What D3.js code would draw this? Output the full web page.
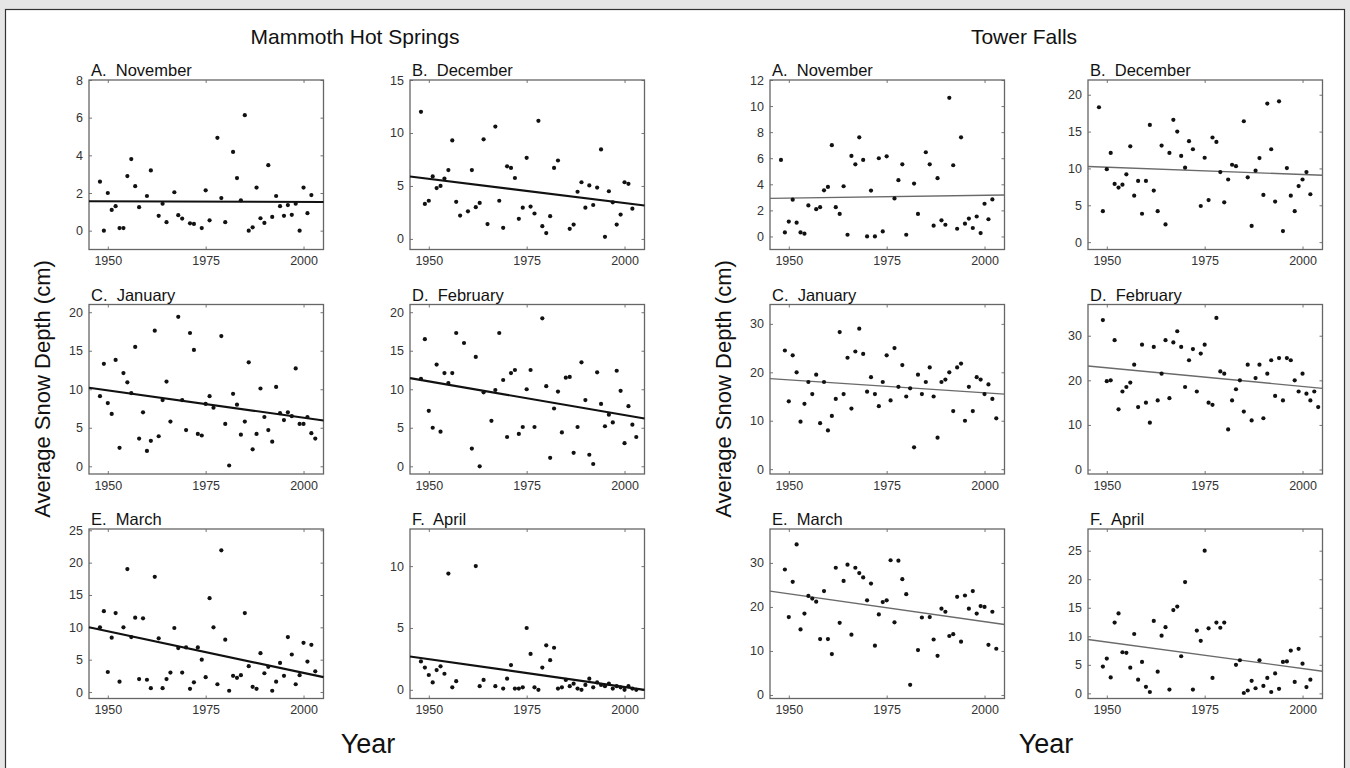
<!DOCTYPE html>
<html><head><meta charset="utf-8">
<script src="https://cdn.jsdelivr.net/npm/d3@7"></script>
<style>html,body{margin:0;padding:0;background:#e6e6e6;} svg{display:block;}</style>
</head><body>
<svg id="chart" width="1350" height="768"></svg>
<script>
// ---------------- DATA ----------------
const sites = ["Mammoth Hot Springs", "Tower Falls"];
const panelTitles = ["A.  November", "B.  December", "C.  January", "D.  February", "E.  March", "F.  April"];
const xTicks = [1950, 1975, 2000];
const xDomain = [1945.2, 2005.1];

const mammothYDomains = [[-1, 8], [-1, 15], [-1, 21], [-1, 21], [-1, 25.2], [-0.7, 13]];
const mammothYTicks = [[0, 2, 4, 6, 8], [0, 5, 10, 15], [0, 5, 10, 15, 20], [0, 5, 10, 15, 20], [0, 5, 10, 15, 20, 25], [0, 5, 10]];
const towerYDomains = [[-1, 12], [-1, 22], [-1, 34], [-1, 37], [-0.8, 37.7], [-0.9, 28.8]];
const towerYTicks = [[0, 2, 4, 6, 8, 10, 12], [0, 5, 10, 15, 20], [0, 10, 20, 30], [0, 10, 20, 30], [0, 10, 20, 30], [0, 5, 10, 15, 20, 25]];

// trend line values at the left and right edge of the year axis
const mammothTrend = [[1.56, 1.52], [5.89, 3.16], [10.2, 5.94], [11.44, 6.2], [10.0, 2.3], [2.7, 0.0]];
const towerTrend = [[2.92, 3.18], [10.27, 9.08], [18.7, 15.5], [23.2, 18.2], [23.6, 16.0], [9.45, 3.88]];

const mammothNov = [[1948,2.6],[1949,0.0],[1950,2.0],[1951,1.1],[1952,1.3],[1953,0.14],[1954,0.14],[1955,2.9],[1956,3.8],[1957,2.36],[1958,1.25],[1960,1.84],[1961,3.2],[1963,0.79],[1964,1.43],[1965,0.45],[1967,2.04],[1968,0.82],[1969,0.64],[1971,0.39],[1972,0.36],[1974,0.14],[1975,2.14],[1976,0.55],[1978,4.93],[1979,1.73],[1980,0.45],[1982,4.18],[1983,2.79],[1984,1.61],[1985,6.13],[1986,0.0],[1987,0.18],[1988,2.29],[1989,0.66],[1990,0.41],[1991,3.48],[1992,0.73],[1993,1.84],[1994,1.3],[1995,0.79],[1996,1.36],[1997,0.84],[1998,1.43],[1999,0.0],[2000,2.29],[2001,0.93],[2002,1.89]];
const mammothDec = [[1948,12.0],[1949,3.3],[1950,3.6],[1951,5.9],[1952,4.8],[1953,5.0],[1954,5.7],[1955,6.5],[1956,9.3],[1957,3.5],[1958,2.2],[1960,2.6],[1961,6.5],[1962,3.0],[1963,3.4],[1964,9.4],[1965,1.4],[1967,10.6],[1968,3.6],[1969,1.05],[1970,6.85],[1971,6.7],[1972,5.75],[1973,1.9],[1974,2.95],[1975,7.65],[1976,3.05],[1977,2.4],[1978,11.15],[1979,1.2],[1980,0.55],[1981,2.15],[1982,6.7],[1983,7.4],[1986,0.95],[1987,1.35],[1988,4.45],[1989,5.35],[1990,2.95],[1991,5.05],[1992,3.2],[1993,4.85],[1994,8.45],[1995,0.2],[1996,4.5],[1997,3.45],[1998,1.35],[1999,2.3],[2000,5.35],[2001,5.2],[2002,2.85]];
const mammothJan = [[1948,9.1],[1949,13.3],[1950,8.2],[1951,6.8],[1952,13.8],[1953,2.4],[1954,12.1],[1955,10.9],[1956,9.5],[1957,15.5],[1958,3.6],[1959,7.0],[1960,2.0],[1961,3.3],[1962,17.6],[1963,3.9],[1964,8.6],[1965,11.0],[1966,5.8],[1968,19.4],[1969,8.6],[1970,4.7],[1971,17.3],[1972,15.1],[1973,4.2],[1974,4.0],[1975,8.1],[1976,9.1],[1977,7.6],[1979,16.9],[1980,5.5],[1981,0.1],[1982,9.4],[1983,8.0],[1984,4.1],[1985,5.8],[1986,13.5],[1987,2.2],[1988,4.2],[1989,10.1],[1990,6.4],[1991,4.7],[1992,3.2],[1993,10.3],[1994,6.9],[1995,6.0],[1996,7.0],[1997,6.5],[1998,12.7],[1999,5.5],[2000,5.5],[2001,6.4],[2002,4.3],[2003,3.6]];
const mammothFeb = [[1948,11.35],[1949,16.5],[1950,7.2],[1951,5.0],[1952,13.2],[1953,4.5],[1954,12.1],[1955,10.8],[1956,12.1],[1957,17.3],[1959,16.0],[1961,2.3],[1962,14.2],[1963,0.0],[1964,9.6],[1966,5.9],[1967,9.9],[1968,17.3],[1969,11.2],[1970,3.8],[1971,12.1],[1972,12.5],[1973,4.2],[1974,5.1],[1975,10.0],[1976,12.5],[1977,5.1],[1979,19.2],[1980,10.4],[1981,1.1],[1982,7.5],[1983,9.7],[1984,4.4],[1985,11.5],[1986,11.6],[1987,1.75],[1988,5.1],[1989,13.5],[1990,8.6],[1991,1.5],[1992,0.3],[1993,12.2],[1994,8.1],[1995,5.2],[1996,6.7],[1997,5.7],[1998,12.4],[1999,9.8],[2000,3.0],[2001,7.8],[2002,5.4],[2003,3.8]];
const mammothMar = [[1948,10.0],[1949,12.5],[1950,3.1],[1951,8.4],[1952,12.2],[1953,1.6],[1954,10.0],[1955,19.0],[1956,8.5],[1957,11.5],[1958,2.0],[1959,11.4],[1960,1.9],[1961,0.6],[1962,17.8],[1963,8.3],[1964,0.6],[1965,2.0],[1966,3.0],[1967,9.9],[1968,6.8],[1969,3.0],[1970,6.9],[1971,0.5],[1972,1.5],[1973,6.9],[1974,5.0],[1975,2.3],[1976,14.5],[1977,10.0],[1978,1.2],[1979,21.9],[1980,8.1],[1981,0.2],[1982,2.5],[1983,2.2],[1984,2.6],[1985,12.2],[1986,4.0],[1987,0.8],[1988,0.5],[1989,6.0],[1990,2.9],[1991,3.9],[1992,0.2],[1993,1.6],[1994,4.5],[1995,2.5],[1996,8.5],[1997,5.8],[1998,1.2],[1999,2.6],[2000,7.6],[2001,4.7],[2002,7.3],[2003,3.2]];
const mammothApr = [[1948,2.3],[1949,1.8],[1950,1.2],[1951,0.6],[1952,1.6],[1953,1.9],[1954,1.3],[1955,9.4],[1956,0.2],[1957,0.7],[1962,10.0],[1963,0.3],[1964,0.8],[1967,0.3],[1969,0.1],[1970,0.9],[1971,2.0],[1972,0.1],[1973,0.1],[1974,0.2],[1975,5.0],[1976,2.9],[1977,0.2],[1978,0.0],[1979,1.8],[1980,3.6],[1981,2.4],[1982,3.4],[1983,0.1],[1984,0.2],[1985,0.8],[1986,0.3],[1987,0.5],[1988,0.1],[1989,0.0],[1990,0.4],[1991,0.9],[1992,0.2],[1993,0.6],[1994,0.4],[1995,0.3],[1996,0.5],[1997,0.1],[1998,0.3],[1999,0.2],[2000,0.0],[2001,0.3],[2002,0.1],[2003,0.0]];

const towerNov = [[1948,5.87],[1949,0.31],[1950,1.14],[1951,2.82],[1952,1.06],[1953,0.31],[1954,0.21],[1955,2.38],[1957,2.09],[1958,2.25],[1959,3.54],[1960,3.8],[1961,7.0],[1962,2.25],[1963,1.73],[1964,3.85],[1965,0.13],[1966,6.18],[1967,5.53],[1968,7.6],[1969,5.87],[1970,0.0],[1971,3.52],[1972,0.0],[1973,6.0],[1974,0.39],[1975,6.15],[1977,2.92],[1978,4.32],[1979,5.53],[1980,0.13],[1982,4.06],[1983,1.73],[1985,6.46],[1986,5.53],[1987,0.83],[1988,4.47],[1989,1.24],[1990,0.9],[1991,10.63],[1992,5.46],[1993,0.59],[1994,7.6],[1995,0.98],[1996,1.37],[1997,0.65],[1998,1.53],[1999,0.26],[2000,2.51],[2001,1.32],[2002,2.84]];
const towerDec = [[1948,18.3],[1949,4.2],[1950,9.9],[1951,12.1],[1952,7.9],[1953,7.4],[1954,7.8],[1955,9.2],[1956,13.0],[1957,6.3],[1958,8.3],[1959,3.85],[1960,8.3],[1961,15.9],[1962,7.0],[1963,4.2],[1964,13.1],[1965,2.4],[1966,12.1],[1967,16.6],[1968,15.0],[1969,11.7],[1970,10.1],[1971,13.7],[1972,12.6],[1974,4.9],[1975,11.45],[1976,5.7],[1977,14.2],[1978,13.6],[1979,9.5],[1980,5.4],[1981,8.5],[1982,10.5],[1983,10.3],[1985,16.4],[1986,8.8],[1987,2.2],[1988,9.7],[1989,11.4],[1990,6.4],[1991,18.8],[1992,12.6],[1993,5.5],[1994,19.1],[1995,1.5],[1996,10.05],[1997,6.3],[1998,4.2],[1999,7.6],[2000,8.5],[2001,9.5],[2002,6.5]];
const towerJan = [[1949,24.5],[1950,14.0],[1951,23.5],[1952,20.0],[1953,9.8],[1954,13.5],[1955,18.0],[1956,15.5],[1957,19.5],[1958,9.5],[1959,18.0],[1960,8.0],[1961,11.0],[1962,14.5],[1963,28.3],[1964,15.5],[1965,23.0],[1966,12.5],[1967,24.3],[1968,29.0],[1969,23.8],[1970,16.0],[1971,19.0],[1972,15.5],[1973,13.0],[1974,18.0],[1975,23.5],[1976,14.2],[1977,25.0],[1978,17.0],[1979,21.5],[1980,15.0],[1981,16.7],[1982,4.5],[1983,19.5],[1984,15.5],[1985,18.0],[1986,21.0],[1987,15.0],[1988,6.5],[1989,18.0],[1990,18.5],[1991,20.0],[1992,12.0],[1993,21.0],[1994,21.8],[1995,10.0],[1996,17.0],[1997,12.0],[1998,19.0],[1999,18.5],[2000,15.5],[2001,17.5],[2002,14.5],[2003,10.5]];
const towerFeb = [[1949,33.5],[1950,19.8],[1951,20.0],[1952,29.0],[1953,13.5],[1954,17.5],[1955,18.5],[1956,19.5],[1957,23.5],[1958,14.0],[1959,28.0],[1960,15.0],[1961,10.5],[1962,27.5],[1963,15.5],[1964,21.5],[1965,29.0],[1966,16.0],[1967,28.5],[1968,31.0],[1969,27.5],[1970,18.5],[1971,24.5],[1972,27.0],[1973,17.5],[1974,26.0],[1975,28.0],[1976,15.0],[1977,14.5],[1978,34.0],[1979,22.0],[1980,21.5],[1981,9.0],[1982,15.5],[1983,18.0],[1984,20.0],[1985,13.0],[1986,23.5],[1987,11.0],[1988,20.5],[1989,23.5],[1990,11.5],[1991,21.5],[1992,24.5],[1993,16.5],[1994,25.0],[1995,15.5],[1996,25.0],[1997,24.5],[1998,20.0],[1999,17.5],[2000,21.5],[2001,17.0],[2002,15.5],[2003,17.5],[2004,14.0]];
const towerMar = [[1949,28.5],[1950,17.7],[1951,25.7],[1952,34.2],[1953,14.9],[1954,18.5],[1955,22.5],[1956,21.9],[1957,21.2],[1958,12.7],[1959,23.6],[1960,12.7],[1961,9.3],[1962,28.9],[1963,16.4],[1964,25.9],[1965,29.6],[1966,13.7],[1967,28.9],[1968,27.7],[1969,26.7],[1970,21.5],[1971,25.3],[1972,11.2],[1973,18.3],[1974,21.1],[1975,21.5],[1976,30.6],[1977,16.5],[1978,30.5],[1979,26.3],[1980,22.9],[1981,2.3],[1983,10.2],[1984,17.6],[1986,17.7],[1987,12.6],[1988,8.9],[1989,19.6],[1990,18.9],[1991,13.4],[1992,13.8],[1993,22.3],[1994,12.1],[1995,22.6],[1996,19.6],[1997,23.6],[1998,18.5],[1999,20.2],[2000,20.0],[2001,11.4],[2002,18.9],[2003,10.5]];
const towerApr = [[1949,4.7],[1950,6.1],[1951,2.8],[1952,12.4],[1953,14.0],[1954,7.2],[1955,7.1],[1956,4.5],[1957,10.4],[1958,2.4],[1959,5.5],[1960,1.15],[1961,0.24],[1962,12.7],[1963,3.8],[1964,10.1],[1965,11.6],[1966,0.67],[1967,14.6],[1968,15.2],[1969,6.5],[1970,19.5],[1972,0.67],[1973,11.0],[1974,9.2],[1975,25.0],[1976,11.4],[1977,2.7],[1978,12.4],[1979,11.5],[1980,12.4],[1983,5.0],[1984,5.8],[1985,0.06],[1986,0.5],[1987,2.2],[1988,0.9],[1989,5.8],[1990,1.3],[1991,2.7],[1992,0.24],[1993,3.5],[1994,0.8],[1995,5.5],[1996,5.6],[1997,7.5],[1998,2.0],[1999,7.8],[2000,5.2],[2001,1.1],[2002,2.4]];

const mammothPanels = [mammothNov, mammothDec, mammothJan, mammothFeb, mammothMar, mammothApr];
const towerPanels = [towerNov, towerDec, towerJan, towerFeb, towerMar, towerApr];

// ---------------- DRAWING ----------------
const FONT = "'Liberation Sans', Arial, Helvetica, sans-serif";
const svg = d3.select("#chart").style("font-family", FONT);

svg.append("rect").attr("x", 0).attr("y", 0).attr("width", 1350).attr("height", 768).attr("fill", "#e6e6e6");
svg.append("rect").attr("x", 5.5).attr("y", 9.5).attr("width", 1339).attr("height", 800)
  .attr("fill", "#ffffff").attr("stroke", "#333").attr("stroke-width", 1.2);

const PW = 234.5, PH = 169.5;
const rowTops = [80, 304.5, 529];

const groups = [
  { name: sites[0], panels: mammothPanels, yDomains: mammothYDomains, yTicks: mammothYTicks, trend: mammothTrend,
    cols: [89, 410], lineColor: "#111", lineWidth: 2.1, titleX: 355, ylabX: 50, yearX: 368 },
  { name: sites[1], panels: towerPanels, yDomains: towerYDomains, yTicks: towerYTicks, trend: towerTrend,
    cols: [770, 1088], lineColor: "#6a6a6a", lineWidth: 1.4, titleX: 1024, ylabX: 731, yearX: 1046 }
];

const x = d3.scaleLinear().domain(xDomain).range([0, PW]);

groups.forEach(gr => {
  svg.append("text").attr("x", gr.titleX).attr("y", 44).attr("text-anchor", "middle")
    .attr("font-size", 21).attr("fill", "#111").text(gr.name);
  svg.append("text").attr("transform", `translate(${gr.ylabX},389) rotate(-90)`)
    .attr("text-anchor", "middle").attr("font-size", 22).attr("fill", "#111").text("Average Snow Depth (cm)");
  svg.append("text").attr("x", gr.yearX).attr("y", 753).attr("text-anchor", "middle")
    .attr("font-size", 27).attr("fill", "#111").text("Year");

  gr.panels.forEach((data, i) => {
    const left = gr.cols[i % 2], top = rowTops[Math.floor(i / 2)];
    const g = svg.append("g").attr("transform", `translate(${left},${top})`);
    const y = d3.scaleLinear().domain(gr.yDomains[i]).range([PH, 0]);

    const styleAxis = sel => {
      sel.select(".domain").remove();
      sel.selectAll(".tick line").attr("stroke", "#777").attr("stroke-width", 1);
      sel.selectAll(".tick text").attr("fill", "#333").attr("font-size", 12.5).attr("font-family", FONT);
    };
    g.append("g").call(d3.axisLeft(y).tickValues(gr.yTicks[i]).tickSizeInner(-3).tickSizeOuter(0).tickPadding(6)).call(styleAxis);
    g.append("g").attr("transform", `translate(${PW},0)`)
      .call(d3.axisRight(y).tickValues(gr.yTicks[i]).tickSizeInner(-3).tickSizeOuter(0).tickFormat("")).call(styleAxis);
    g.append("g").attr("transform", `translate(0,${PH})`)
      .call(d3.axisBottom(x).tickValues(xTicks).tickFormat(d3.format("d")).tickSizeInner(-3).tickSizeOuter(0).tickPadding(7)).call(styleAxis);
    g.append("g")
      .call(d3.axisTop(x).tickValues(xTicks).tickSizeInner(-3).tickSizeOuter(0).tickFormat("")).call(styleAxis);

    g.append("rect").attr("x", 0).attr("y", 0).attr("width", PW).attr("height", PH)
      .attr("fill", "none").attr("stroke", "#666").attr("stroke-width", 1.3);

    g.append("text").attr("x", 2).attr("y", -4).attr("font-size", 16.5).attr("fill", "#111")
      .style("white-space", "pre").text(panelTitles[i]);

    const t = gr.trend[i];
    g.append("line")
      .attr("x1", x(xDomain[0])).attr("y1", y(t[0]))
      .attr("x2", x(xDomain[1])).attr("y2", y(t[1]))
      .attr("stroke", gr.lineColor).attr("stroke-width", gr.lineWidth);

    g.selectAll("circle.pt").data(data).enter().append("circle").attr("class", "pt")
      .attr("cx", d => x(d[0])).attr("cy", d => y(d[1])).attr("r", 2.1).attr("fill", "#111");
  });
});
</script>
</body></html>
